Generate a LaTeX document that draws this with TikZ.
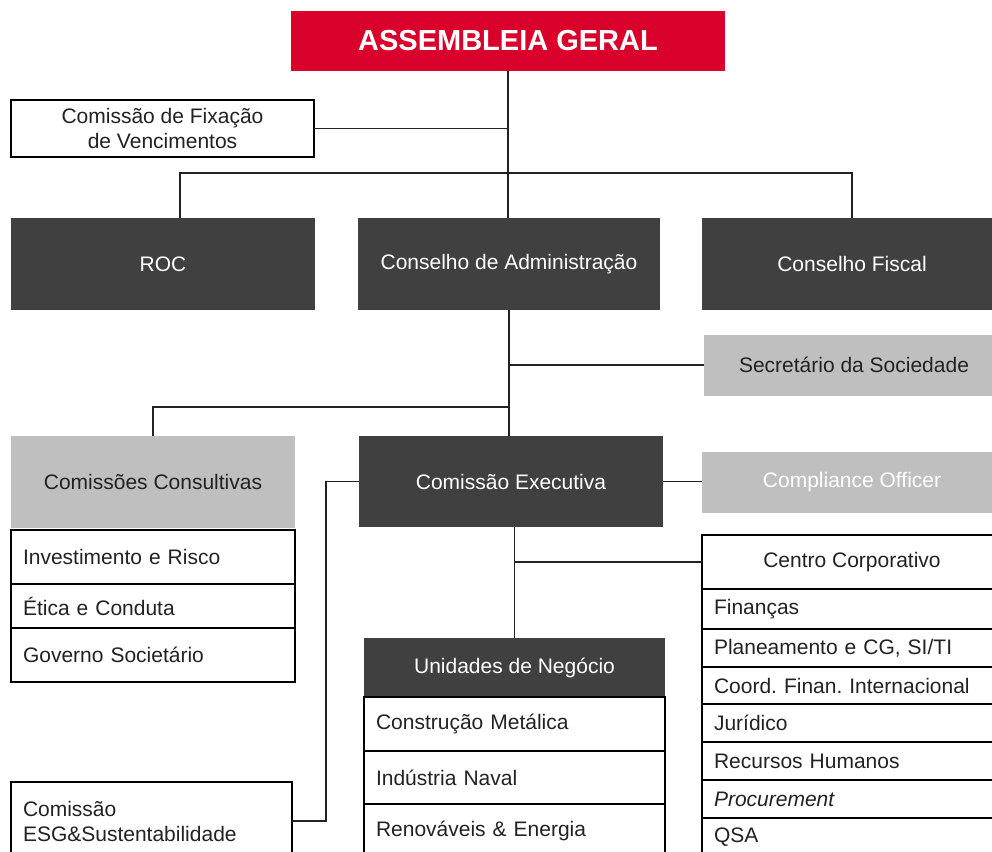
\documentclass[tikz,border=0pt]{standalone}
\usepackage{fontspec}
\setmainfont{Liberation Sans}
\frenchspacing
\definecolor{agred}{HTML}{D9002B}
\definecolor{boxdark}{HTML}{404040}
\definecolor{boxgrey}{HTML}{BFBFBF}
\definecolor{txtdark}{HTML}{222222}
\begin{document}
\begin{tikzpicture}[x=1pt,y=-1pt,
  every node/.style={font=\fontsize{21}{25}\selectfont,inner sep=0pt,outer sep=0pt},
  redbox/.style={fill=agred,text=white,font=\fontsize{29}{32}\selectfont\bfseries},
  darkbox/.style={fill=boxdark,text=white},
  greybox/.style={fill=boxgrey,text=txtdark},
  whitebox/.style={draw=black,line width=1.2pt,fill=white,text=txtdark},
  itembox/.style={whitebox,align=left,inner xsep=12pt},
  link/.style={line width=1.3pt,draw=txtdark}]
\clip (0,0) rectangle (992,851);
\useasboundingbox (0,0) rectangle (992,851);
% top level
\node[redbox,minimum width=434pt,minimum height=60pt] (ag) at (508,41) {ASSEMBLEIA GERAL};
\node[whitebox,align=center,minimum width=303pt,minimum height=57pt] (cfv) at (162.5,128.5) {Comissão de Fixação\\de Vencimentos};
\node[darkbox,minimum width=304pt,minimum height=92pt] (roc) at (163,264) {ROC};
\node[darkbox,minimum width=302pt,minimum height=92pt] (ca) at (509,264) {Conselho de Administração};
\node[darkbox,minimum width=300pt,minimum height=92pt] (cf) at (852,264) {Conselho Fiscal};
\node[greybox,minimum width=300pt,minimum height=61pt] (sec) at (854,365) {Secretário da Sociedade};
% committees
\node[greybox,minimum width=284pt,minimum height=92pt] (cc) at (153,482) {Comissões Consultivas};
\foreach \n/\y/\h/\t in {cc1/557/54/Investimento e Risco,cc2/606/44/Ética e Conduta,cc3/655/54/Governo Societário}
  \node[itembox,text width=260pt,minimum height=\h pt] (\n) at (153,\y) {\t};
\node[darkbox,minimum width=304pt,minimum height=91pt] (ce) at (511,481.5) {Comissão Executiva};
\node[greybox,text=white,minimum width=300pt,minimum height=61pt] (co) at (852,482.5) {Compliance Officer};
\node[itembox,text width=257pt,minimum height=78pt] (esg) at (151.5,821) {Comissão\\ESG\&Sustentabilidade};
% business units
\node[darkbox,minimum width=301pt,minimum height=59pt] (un) at (514.5,667.5) {Unidades de Negócio};
\foreach \n/\y/\h/\t in {un1/724/54/Construção Metálica,un2/777.5/53/Indústria Naval,un3/831/54/Renováveis \& Energia}
  \node[itembox,text width=277pt,minimum height=\h pt] (\n) at (514.5,\y) {\t};
% corporate centre
\node[whitebox,minimum width=300pt,minimum height=54pt] (cco) at (852,562) {Centro Corporativo};
\foreach \n/\y/\h/\t in {cco1/609/40/Finanças,cco2/648/38/{Planeamento e CG, SI/TI},cco3/685.5/37/Coord. Finan. Internacional,cco4/723/38/Jurídico,cco5/761/38/Recursos Humanos,cco6/799/38/{\itshape Procurement},cco7/837/38/QSA}
  \node[itembox,text width=276pt,minimum height=\h pt] (\n) at (852,\y) {\t};
% connectors
\draw[link] (ag.south) -- (ag.south |- ca.north);
\draw[link] (cfv.east) -- (cfv.east -| ag.south);
\draw[link] ([xshift=17pt]roc.north) -- ++(0,-45) -| (cf.north);
\draw[link] (ca.south) -- (ca.south |- ce.north);
\draw[link] (sec.west) -- (sec.west -| ca.south);
\draw[link] (cc.north) -- ++(0,-29) -| (ca.south);
\draw[link] (ce.east) -- (ce.east -| co.west);
\draw[link] (ce.west) -- ++(-33,0) |- (esg.east);
\draw[link] (un.north |- ce.south) -- (un.north);
\draw[link] (cco.west) -- (cco.west -| un.north);
\end{tikzpicture}
\end{document}
